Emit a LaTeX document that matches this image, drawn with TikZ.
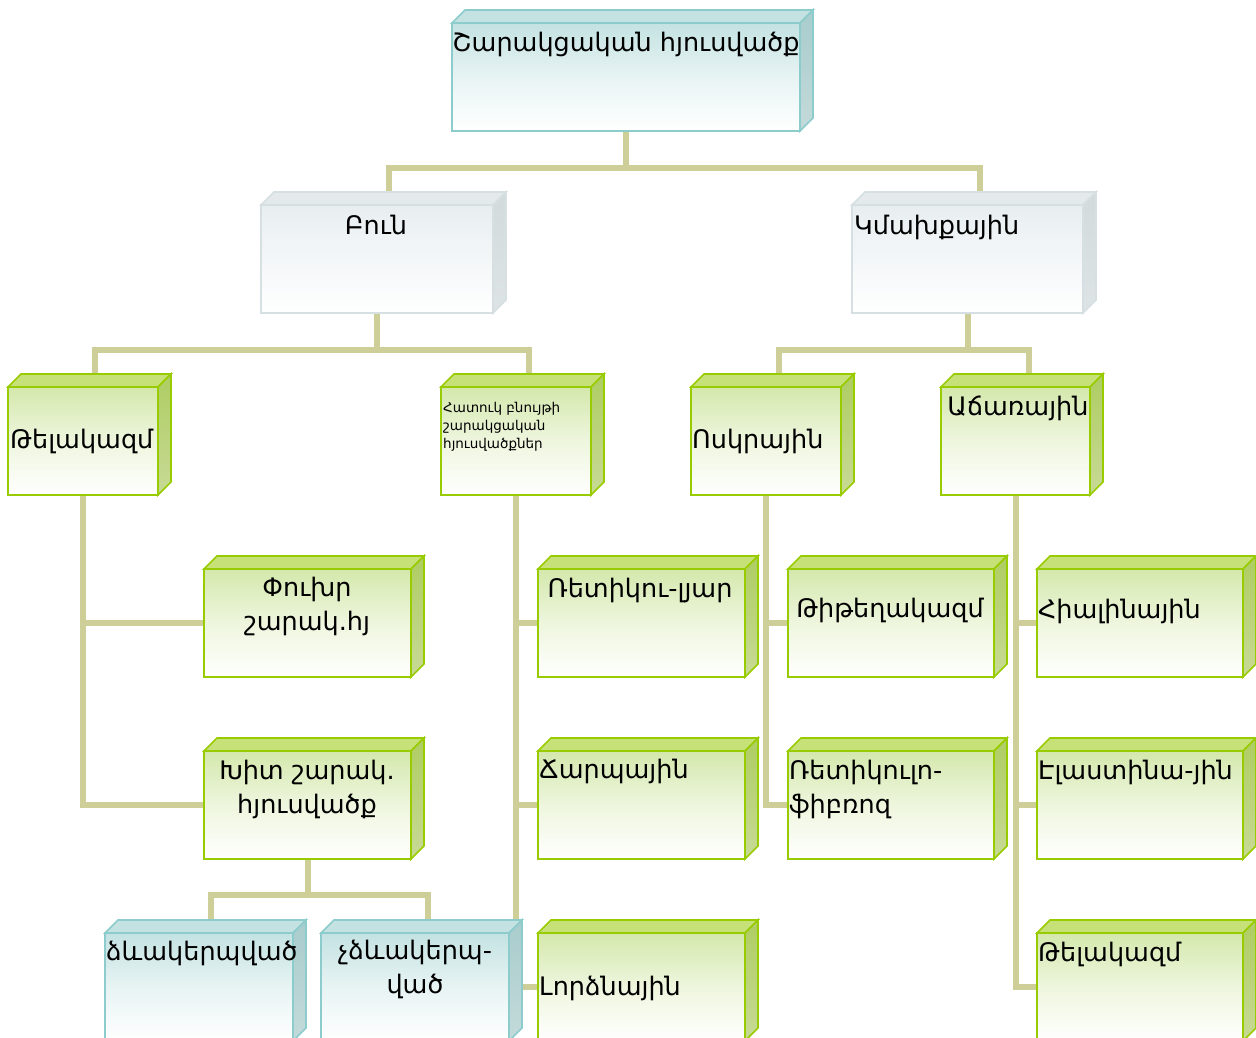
\documentclass[tikz,border=0pt]{standalone}
\usepackage{fontspec}
\setmainfont{DejaVu Sans}
\usetikzlibrary{calc}
\pgfdeclarelayer{bg}\pgfdeclarelayer{paper}\pgfsetlayers{paper,bg,main}
\definecolor{connc}{RGB}{206,206,153}
\definecolor{gedge}{RGB}{153,204,0}
\definecolor{gtop}{RGB}{198,225,120}
\definecolor{gfront}{RGB}{212,232,172}
\definecolor{gside}{RGB}{174,205,98}
\definecolor{gside2}{RGB}{200,218,150}
\definecolor{tedge}{RGB}{140,204,204}
\definecolor{ttop}{RGB}{196,226,226}
\definecolor{tfront}{RGB}{196,226,226}
\definecolor{tside}{RGB}{168,204,204}
\definecolor{tside2}{RGB}{196,218,218}
\definecolor{sedge}{RGB}{214,224,226}
\definecolor{stop}{RGB}{228,234,236}
\definecolor{sfront}{RGB}{232,238,240}
\definecolor{sside}{RGB}{210,218,220}
\definecolor{sside2}{RGB}{222,228,230}
\tikzset{
  conn/.style={draw=connc, line width=6pt},
  boxg/.style={draw=gedge, line width=1.6pt, top color=gfront, bottom color=white, middle color=gfront!40, inner sep=0pt, outer sep=0pt},
  boxt/.style={draw=tedge, line width=1.6pt, top color=tfront, bottom color=white, middle color=tfront!40, inner sep=0pt, outer sep=0pt},
  boxs/.style={draw=sedge, line width=1.6pt, top color=sfront, bottom color=white, middle color=sfront!50, inner sep=0pt, outer sep=0pt},
  faceg/.style={draw=gedge, line width=1.6pt, fill=gtop},
  facet/.style={draw=tedge, line width=1.6pt, fill=ttop},
  faces/.style={draw=sedge, line width=1.6pt, fill=stop},
  sideg/.style={draw=gedge, line width=1.6pt, top color=gside, bottom color=gside2},
  sidet/.style={draw=tedge, line width=1.6pt, top color=tside, bottom color=tside2},
  sides/.style={draw=sedge, line width=1.6pt, top color=sside, bottom color=sside2},
  lbl/.style={inner sep=0pt, font=\fontsize{25.5}{34}\selectfont, align=center},
  lbll/.style={inner sep=0pt, font=\fontsize{25.5}{34}\selectfont, align=left},
  smalllbl/.style={inner sep=0pt, font=\fontsize{13.5}{18}\selectfont, align=left},
}
\newcommand\mkbox[6]{%
  \node[box#1, minimum width={(#5-#3)*1pt}, minimum height={(#6-#4)*1pt}] (#2) at ({(#3+#5)/2},{(#4+#6)/2}) {};
  \draw[face#1] (#2.north west) -- ++(13,-13) -- ([shift={(13,-13)}]#2.north east) -- (#2.north east) -- cycle;
  \draw[side#1] (#2.north east) -- ++(13,-13) -- ([shift={(13,-13)}]#2.south east) -- (#2.south east) -- cycle;
}
\begin{document}
\begin{tikzpicture}[x=1pt,y=-1pt]
\useasboundingbox (0,0) rectangle (1256,1037);
\begin{pgfonlayer}{paper}
\fill[white] (0,0) rectangle (1256,1037);
\end{pgfonlayer}
% boxes
\mkbox{t}{root}{452}{23}{800}{131}
\mkbox{s}{bun}{261}{205}{493}{313}
\mkbox{s}{kmax}{852}{205}{1083}{313}
\mkbox{g}{tel}{8}{387}{158}{495}
\mkbox{g}{hat}{441}{387}{591}{495}
\mkbox{g}{osk}{691}{387}{841}{495}
\mkbox{g}{atch}{941}{387}{1090}{495}
\mkbox{g}{fux}{204}{569}{411}{677}
\mkbox{g}{khit}{204}{751}{411}{859}
\mkbox{g}{ret}{538}{569}{745}{677}
\mkbox{g}{charp}{538}{751}{745}{859}
\mkbox{g}{lor}{538}{933}{745}{1041}
\mkbox{g}{tit}{788}{569}{994}{677}
\mkbox{g}{retf}{788}{751}{994}{859}
\mkbox{g}{hial}{1037}{569}{1243}{677}
\mkbox{g}{elas}{1037}{751}{1243}{859}
\mkbox{g}{tel2}{1037}{933}{1243}{1041}
\mkbox{t}{dzev}{105}{933}{293}{1041}
\mkbox{t}{chdzev}{321}{933}{509}{1041}
% connectors
\begin{pgfonlayer}{bg}
\draw[conn] (root.south) -- ++(0,37) -| ([xshift=12pt]bun.north);
\draw[conn] (root.south) -- ++(0,37) -| ([xshift=12pt]kmax.north);
\draw[conn] (bun.south) -- ++(0,37) -| ([xshift=12pt]tel.north);
\draw[conn] (bun.south) -- ++(0,37) -| ([xshift=13pt]hat.north);
\draw[conn] (kmax.south) -- ++(0,37) -| ([xshift=13pt]osk.north);
\draw[conn] (kmax.south) -- ++(0,37) -| ([xshift=13pt]atch.north);
\draw[conn] (tel.south) |- (fux.west);
\draw[conn] (tel.south) |- (khit.west);
\draw[conn] (hat.south) |- (ret.west);
\draw[conn] (hat.south) |- (charp.west);
\draw[conn] (hat.south) |- (lor.west);
\draw[conn] (osk.south) |- (tit.west);
\draw[conn] (osk.south) |- (retf.west);
\draw[conn] (atch.south) |- (hial.west);
\draw[conn] (atch.south) |- (elas.west);
\draw[conn] (atch.south) |- (tel2.west);
\draw[conn] (khit.south) -- ++(0,36) -| ([xshift=12pt]dzev.north);
\draw[conn] (khit.south) -- ++(0,36) -| ([xshift=13pt]chdzev.north);
\end{pgfonlayer}
% labels
\node[lbl, anchor=base] (l-root) at (626,51) {Շարակցական հյուսվածք};
\node[lbl, anchor=base] (l-bun) at (376,234) {Բուն};
\node[lbll, anchor=base west] (l-kmax) at (854,234) {Կմախքային};
\node[lbll, anchor=base west] (l-tel) at (10,448) {Թելակազմ};
\node[smalllbl, anchor=base west] (l-hat) at (443,448) {Հատուկ բնույթի\\շարակցական\\հյուսվածքներ};
\node[lbll, anchor=base west] (l-osk) at (692,448) {Ոսկրային};
\node[lbl, anchor=base] (l-atch) at (1018,415) {Աճառային};
\node[lbl, anchor=base] (l-fux) at (307,630) {Փուխր\\շարակ.հյ};
\node[lbl, anchor=base] (l-ret) at (640,597) {Ռետիկու-լյար};
\node[lbl, anchor=base] (l-tit) at (890,617) {Թիթեղակազմ};
\node[lbll, anchor=base west] (l-hial) at (1038,618) {Հիալինային};
\node[lbl, anchor=base] (l-khit) at (307,813) {Խիտ շարակ.\\հյուսվածք};
\node[lbll, anchor=base west] (l-charp) at (539,778) {Ճարպային};
\node[lbll, anchor=base west] (l-retf) at (789,813) {Ռետիկուլո-\\ֆիբռոզ};
\node[lbll, anchor=base west] (l-elas) at (1038,779) {Էլաստինա-յին};
\node[lbll, anchor=base west] (l-lor) at (539,995) {Լորձնային};
\node[lbll, anchor=base west] (l-tel2) at (1038,961) {Թելակազմ};
\node[lbll, anchor=base west] (l-dzev) at (106,960) {ձևակերպված};
\node[lbl, anchor=base] (l-chdzev) at (415,993) {չձևակերպ-\\ված};
\end{tikzpicture}
\end{document}
